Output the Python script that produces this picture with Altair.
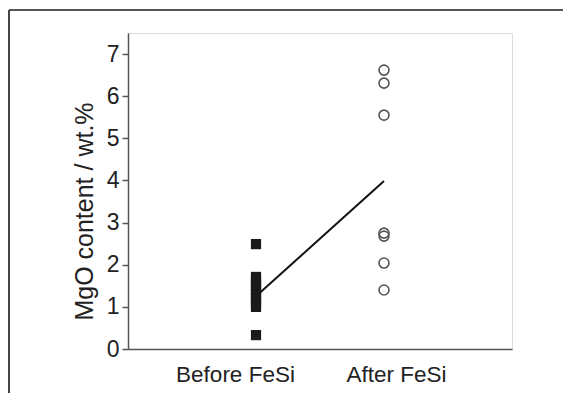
import altair as alt
import pandas as pd

# Data
before_values = [2.49, 1.71, 1.6, 1.5, 1.4, 1.3, 1.2, 1.1, 1.0, 0.33]
after_values = [6.62, 6.31, 5.55, 2.75, 2.68, 2.04, 1.40]
groups = ["Before FeSi", "After FeSi"]
mean_values = [1.25, 3.99]
y_ticks = [0, 0.5, 1, 1.5, 2, 2.5, 3, 3.5, 4, 4.5, 5, 5.5, 6, 6.5, 7, 7.5]

df_before = pd.DataFrame({"group": groups[0], "value": before_values})
df_after = pd.DataFrame({"group": groups[1], "value": after_values})
df_mean = pd.DataFrame({"group": groups, "value": mean_values})

FONT = "Liberation Sans"

x_enc = alt.X(
    "group:N",
    sort=groups,
    scale=alt.Scale(type="point", domain=groups, padding=1.0),
    axis=alt.Axis(
        title=None,
        ticks=False,
        labelAngle=0,
        labelFontSize=22.5,
        labelColor="#222222",
        labelPadding=14,
        labelOffset={"condition": {"test": "datum.value == 'Before FeSi'", "value": -21}, "value": 12},
        domainColor="#555555",
        domainWidth=1.5,
    ),
)

y_enc = alt.Y(
    "value:Q",
    scale=alt.Scale(domain=[0, 7.5], nice=False, zero=True),
    axis=alt.Axis(
        title="MgO content / wt.%",
        titleFontSize=25,
        titleFontWeight="normal",
        titleColor="#222222",
        titlePadding=9,
        titleY=178,
        values=y_ticks,
        format="d",
        labelExpr="datum.value % 1 == 0 ? datum.label : ''",
        labelFontSize=23,
        labelColor="#222222",
        labelPadding=3,
        tickSize={"condition": {"test": "datum.value % 1 != 0", "value": 3}, "value": 6},
        tickColor="#555555",
        tickWidth=1.5,
        domainColor="#555555",
        domainWidth=1.5,
        grid=False,
    ),
)

squares = alt.Chart(df_before).mark_square(size=105, color="#1a1a1a", opacity=1).encode(x=x_enc, y=y_enc)
circles = alt.Chart(df_after).mark_point(
    shape="circle", size=100, filled=False, color="#555555", strokeWidth=1.6, opacity=1
).encode(x=x_enc, y=y_enc)
line = alt.Chart(df_mean).mark_line(color="#111111", strokeWidth=2).encode(x=x_enc, y=y_enc)

frame_top = alt.Chart(df_mean).mark_rule(color="#555555", strokeWidth=2).encode(
    x=alt.value(-119), x2=alt.value(480), y=alt.value(-23)
)
frame_left = alt.Chart(df_mean).mark_rule(color="#444444", strokeWidth=2).encode(
    x=alt.value(-119), y=alt.value(-23), y2=alt.value(400)
)

chart = (
    alt.layer(frame_top, frame_left, line, squares, circles)
    .properties(
        width=384,
        height=316,
        autosize=alt.AutoSizeParams(type="none"),
        padding={"left": 120, "top": 25, "right": 51, "bottom": 44},
    )
    .configure_view(stroke="transparent", strokeWidth=0)
    .configure(font=FONT, background="white")
)

chart.save("out.html", embed_options={"renderer": "svg", "actions": False})
